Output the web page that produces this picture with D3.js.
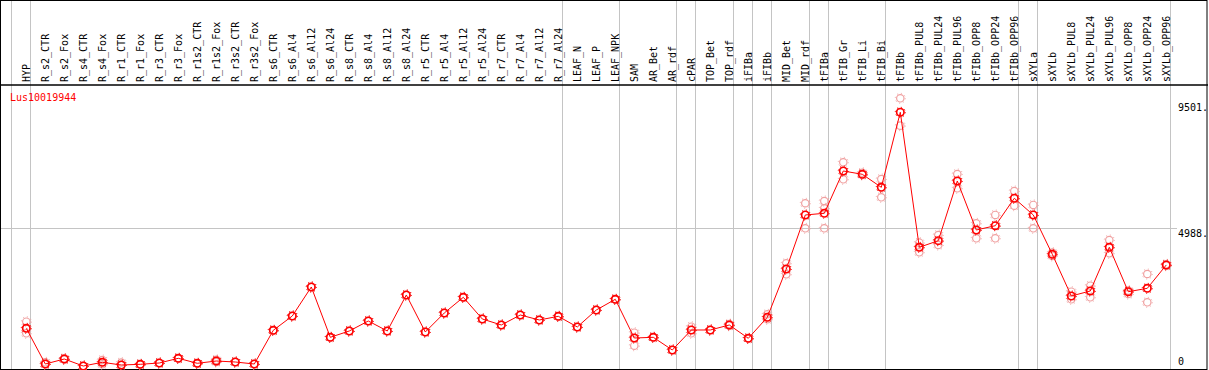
<!DOCTYPE html>
<html>
<head>
  <meta charset="utf-8">
  <title>Lus10019944</title>
  <script src="https://d3js.org/d3.v7.min.js"></script>
  <style>
    body { margin: 0; padding: 0; background: #fff; }
    text { font-family: "DejaVu Sans Mono", monospace; font-size: 10px; }
  </style>
</head>
<body>
<div id="chart"></div>
<script>
  // sample names along the x axis
  var samples = ["HYP","R_s2_CTR","R_s2_Fox","R_s4_CTR","R_s4_Fox","R_r1_CTR","R_r1_Fox","R_r3_CTR","R_r3_Fox",
    "R_r1s2_CTR","R_r1s2_Fox","R_r3s2_CTR","R_r3s2_Fox","R_s6_CTR","R_s6_Al4","R_s6_Al12","R_s6_Al24",
    "R_s8_CTR","R_s8_Al4","R_s8_Al12","R_s8_Al24","R_r5_CTR","R_r5_Al4","R_r5_Al12","R_r5_Al24",
    "R_r7_CTR","R_r7_Al4","R_r7_Al12","R_r7_Al24","LEAF_N","LEAF_P","LEAF_NPK","SAM","AR_Bet","AR_rdf",
    "cPAR","TOP_Bet","TOP_rdf","iFIBa","iFIBb","MID_Bet","MID_rdf","tFIBa","tFIB_Gr","tFIB_Li","tFIB_Bi",
    "tFIBb","tFIBb_PUL8","tFIBb_PUL24","tFIBb_PUL96","tFIBb_OPP8","tFIBb_OPP24","tFIBb_OPP96",
    "sXYLa","sXYLb","sXYLb_PUL8","sXYLb_PUL24","sXYLb_PUL96","sXYLb_OPP8","sXYLb_OPP24","sXYLb_OPP96"];

  // first sample of each group (a grey separator is drawn before it)
  var groupStarts = ["HYP","R_s2_CTR","LEAF_N","SAM","cPAR","TOP_Bet","iFIBa","iFIBb","MID_Bet",
    "tFIBa","tFIB_Gr","tFIBb","sXYLa","sXYLb"];

  var meanValues = [1408,129,308,57,190,93,118,165,333,154,236,200,129,1336,1848,2887,1085,
    1311,1669,1311,2600,1275,1956,2518,1741,1526,1884,1705,1837,1454,2063,2446,1060,1085,630,
    1347,1347,1526,1049,1801,3531,5466,5526,7041,6923,6457,9144,4309,4545,6683,4928,5082,6064,
    5466,4058,2564,2744,4309,2718,2840,3675];

  var repHigh = [1644,190,330,57,272,180,118,165,333,154,280,200,129,1336,1848,2887,1085,
    1311,1669,1311,2600,1275,1956,2518,1741,1526,1884,1705,1837,1454,2063,2446,1250,1085,630,
    1465,1347,1560,1049,1909,3736,5885,5967,7353,6980,6755,9645,4474,4749,6934,5168,5466,6325,
    5824,4120,2718,2933,4570,2760,3352,3700];

  var repMid = [1408,129,308,57,190,93,118,165,333,154,236,200,129,1336,1848,2887,1085,
    1311,1669,1311,2600,1275,1956,2518,1741,1526,1884,1705,1837,1454,2063,2446,1060,1085,630,
    1347,1347,1526,1049,1801,3531,5466,5705,7041,6923,6457,9144,4309,4545,6683,4928,5082,6064,
    5466,4058,2564,2744,4309,2718,2840,3675];

  var repLow = [1229,129,290,57,120,93,118,165,333,154,200,200,129,1336,1848,2887,1085,
    1311,1669,1311,2600,1275,1956,2518,1741,1526,1884,1705,1837,1454,2063,2446,784,1085,630,
    1228,1347,1500,1049,1730,3342,4989,4989,6744,6900,6099,8664,4130,4391,6422,4631,4631,5799,
    4989,4000,2446,2518,4094,2636,2339,3650];

  var yTicks = [0, 4988, 9501];
  var title = "Lus10019944";

  var width = 1209, height = 370;
  var headerBottom = 85, plotBottom = 369, plotRight = 1170;

  var svg = d3.select("#chart").append("svg")
    .attr("width", width).attr("height", height);

  var x = d3.scalePoint().domain(samples).range([26.3, 1166.3]);
  var step = x.step();
  var y = d3.scaleLinear().domain([0, 9501]).range([367.6, 102.3]);

  // grey separators between groups
  var seps = groupStarts.map(function(s) { return x(s) - 15; });
  seps.push(x(samples[samples.length - 1]) + 4);
  svg.selectAll(".sep").data(seps).enter().append("line")
    .attr("x1", function(d) { return Math.round(d) + 0.5; })
    .attr("x2", function(d) { return Math.round(d) + 0.5; })
    .attr("y1", 0).attr("y2", plotBottom)
    .attr("stroke", "#c4c4c4").attr("stroke-width", 1);

  // horizontal grid line at the middle tick
  svg.append("line")
    .attr("x1", 0).attr("x2", 1177)
    .attr("y1", Math.round(y(4988)) + 0.5).attr("y2", Math.round(y(4988)) + 0.5)
    .attr("stroke", "#c4c4c4").attr("stroke-width", 1);

  // frame
  svg.append("rect").attr("x", 0.5).attr("y", 0.5)
    .attr("width", 1206.5).attr("height", plotBottom)
    .attr("fill", "none").attr("stroke", "#000").attr("stroke-width", 1);
  svg.append("line").attr("x1", 0).attr("x2", 1208)
    .attr("y1", headerBottom).attr("y2", headerBottom)
    .attr("stroke", "#000").attr("stroke-width", 1.5);

  // rotated sample labels
  svg.selectAll(".lab").data(samples).enter().append("text")
    .attr("transform", function(d) { return "translate(" + (x(d) + 3.5) + ",82) rotate(-90)"; })
    .attr("fill", "#000")
    .text(function(d) { return d; });

  // y labels
  svg.selectAll(".ylab").data(yTicks).enter().append("text")
    .attr("x", 1178)
    .attr("y", function(d) { return d === 0 ? 365 : y(d) + 8.5; })
    .attr("fill", "#000")
    .text(function(d) { return d === 0 ? "0" : d + "."; });

  svg.append("text").attr("x", 10).attr("y", 101)
    .attr("fill", "#ff0000").text(title);

  // replicate circles
  function marker(g, cx, cy, col, sw) {
    g.append("circle").attr("cx", cx).attr("cy", cy).attr("r", 3.7)
      .attr("fill", "none").attr("stroke", col).attr("stroke-width", sw);
    g.append("circle").attr("cx", cx).attr("cy", cy).attr("r", 5)
      .attr("fill", "none").attr("stroke", col).attr("stroke-width", 1)
      .attr("stroke-dasharray", "1 2.93");
  }
  var reps = svg.append("g");
  [repHigh, repMid, repLow].forEach(function(arr) {
    arr.forEach(function(v, i) {
      marker(reps, x(samples[i]), y(v), "#f0a0a0", 1.2);
    });
  });

  // mean line
  var line = d3.line()
    .x(function(d, i) { return x(samples[i]); })
    .y(function(d) { return y(d); });
  svg.append("path").datum(meanValues)
    .attr("d", line).attr("fill", "none")
    .attr("stroke", "#ff0000").attr("stroke-width", 1);

  var means = svg.append("g");
  meanValues.forEach(function(v, i) {
    marker(means, x(samples[i]), y(v), "#ff0000", 1.6);
  });
</script>
</body>
</html>
